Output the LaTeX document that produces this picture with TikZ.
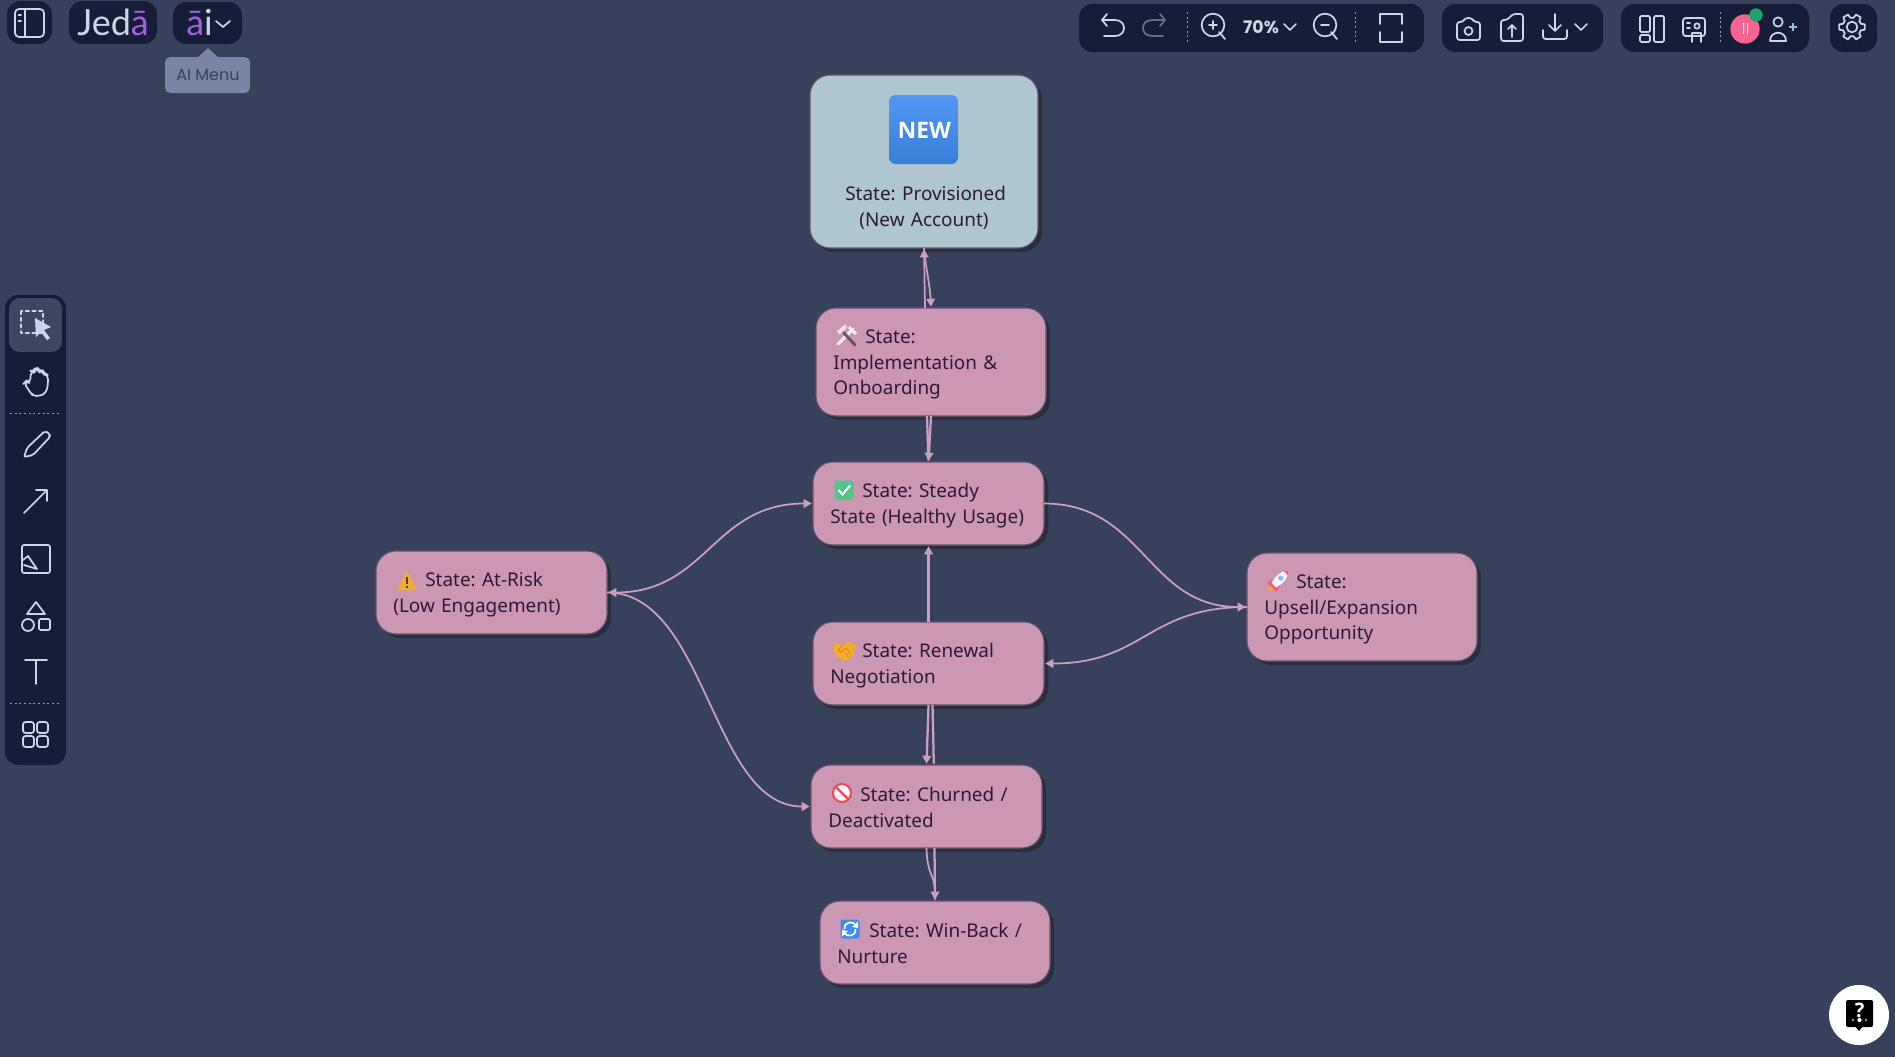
\documentclass[tikz,border=0pt]{standalone}
\usepackage{fontspec}
\usetikzlibrary{arrows.meta,calc}
\setmainfont{Noto Sans}
\newfontfamily\uifont{Poppins}
\newfontfamily\logofont{Lato}
\newfontfamily\badgefont{Open Sans}
\definecolor{bgc}{HTML}{38415B}
\definecolor{panelc}{HTML}{161D37}
\definecolor{pinkc}{HTML}{CB97B3}
\definecolor{bluec}{HTML}{ADC6D0}
\definecolor{shadowc}{HTML}{292D41}
\definecolor{edgec}{HTML}{6A5268}
\definecolor{textc}{HTML}{2E1A36}
\definecolor{linkc}{HTML}{CC9FBC}
\definecolor{iconc}{HTML}{CDD6E8}
\definecolor{purplec}{HTML}{A35FE0}
\definecolor{tipc}{HTML}{7885A3}
\definecolor{selc}{HTML}{3F4660}
\definecolor{avatarc}{HTML}{F4648F}
\definecolor{greenc}{HTML}{1FA36B}
\definecolor{newc}{HTML}{3F8CF0}
\definecolor{checkc}{HTML}{4FC58A}
\definecolor{orangec}{HTML}{F5AE2C}
\definecolor{redc}{HTML}{E94B5C}
\frenchspacing
\hyphenpenalty=10000
\tikzset{
  x=0.75pt,y=-0.75pt,
  statebox/.style={draw=edgec,line width=0.8pt,fill=pinkc,rounded corners=15pt,outer sep=0pt,
    inner xsep=13pt,inner ysep=0pt,text=textc,align=left,font=\fontsize{14.2}{19.2}\selectfont,
    preaction={draw=none,fill=shadowc,transform canvas={xshift=3pt,yshift=-3pt}}},
  sized/.style 2 args={minimum width=#1*0.75pt,minimum height=#2*0.75pt,text width=#1*0.75pt-26pt},
  link/.style={draw=linkc,line width=1.3pt,shorten >=1pt},
  boldlink/.style={link,line width=1.7pt},
  tip/.style={-{Triangle[length=6pt,width=6.5pt]}},
  bothtip/.style={{Triangle[length=6pt,width=6.5pt]}-{Triangle[length=6pt,width=6.5pt]},shorten <=1pt},
  panel/.style={fill=panelc,rounded corners=10pt},
  ui/.style={draw=iconc,line width=1.3pt,line cap=round,line join=round},
  uidim/.style={draw=iconc!45!panelc,line width=1.3pt,line cap=round,line join=round},
  sep/.style={draw=iconc!70!panelc,line width=0.6pt,dash pattern=on 1.5pt off 2pt},
  uitext/.style={text=iconc,inner sep=0pt},
}
\newcommand{\lead}{\rule{0pt}{14pt}\hspace*{24pt}}
\newcommand{\leadup}{\rule{0pt}{12.5pt}\hspace*{24pt}}
\begin{document}
\begin{tikzpicture}
\useasboundingbox (0,0) rectangle (1895,1057);
\fill[bgc] (0,0) rectangle (1895,1057);

% ---- top-left controls
\fill[panel] (7,1) rectangle (52,44);
\draw[ui,rounded corners=3pt] (15,9) rectangle (44,37);
\draw[ui] (25,9) -- (25,37);
\draw[ui] (18.5,15) -- (21,15) (18.5,21) -- (21,21);
\fill[panel] (69,1) rectangle (157,44);
\node[uitext,anchor=base west,font=\logofont\fontsize{27}{30}\selectfont] (logo) at (77,35) {Jed\textcolor{purplec}{ā}};
\fill[panel] (173,2) rectangle (242,44);
\node[uitext,anchor=base west,font=\logofont\fontsize{27}{30}\selectfont] (ailogo) at (186,35) {\textcolor{purplec}{ā}i};
\draw[ui] (216,21) -- (223,27) -- (230,21);
\fill[tipc] (197,58) -- (208,48) -- (219,58) -- cycle;
\fill[tipc,rounded corners=4pt] (165,57) rectangle (250,93);
\node[inner sep=0pt,text=bgc,font=\uifont\fontsize{12}{14}\selectfont] (aimenu) at (208,75) {AI Menu};

% ---- top-right panels
\fill[panel] (1079,4) rectangle (1424,52);
\fill[panel] (1442,4) rectangle (1603,52);
\fill[panel] (1621,4) rectangle (1809,52);
\fill[panel] (1830,4) rectangle (1877,52);
% undo / redo
\draw[ui] (1107,14) -- (1102,20) -- (1107,26);
\draw[ui] (1102,20) -- (1115,20) .. controls (1127,20) and (1127,36) .. (1115,36) -- (1104,36);
\draw[uidim] (1160,14) -- (1165,20) -- (1160,26);
\draw[uidim] (1165,20) -- (1152,20) .. controls (1140,20) and (1140,36) .. (1152,36) -- (1163,36);
\draw[sep] (1187,12) -- (1187,44);
% zoom
\draw[ui] (1213,25) circle (8.5pt) (1219,32) -- (1225,39) (1209,25) -- (1217,25) (1213,21) -- (1213,29);
\node[uitext,font=\uifont\bfseries\fontsize{13}{15}\selectfont] (zoompct) at (1261,27) {70\%};
\draw[ui] (1284,24) -- (1290,30) -- (1296,24);
\draw[ui] (1325,25) circle (8.5pt) (1331,32) -- (1337,39) (1321,25) -- (1329,25);
\draw[sep] (1355,12) -- (1355,44);
% fullscreen
\draw[ui] (1380,24) -- (1380,14) -- (1402,14) -- (1402,24) (1380,32) -- (1380,42) -- (1402,42) -- (1402,32);
% camera
\draw[ui,rounded corners=2pt] (1457,22) -- (1463,22) -- (1465,18) -- (1472,18) -- (1474,22) -- (1480,22) -- (1480,40) -- (1457,40) -- cycle;
\draw[ui] (1468.5,31) circle (3pt);
% file upload
\draw[ui,rounded corners=2pt] (1507,20) -- (1513,14) -- (1523,14) -- (1523,41) -- (1501,41) -- (1501,20) -- cycle;
\draw[ui] (1512,37) -- (1512,25) (1508,29) -- (1512,25) -- (1516,29);
% download
\draw[ui] (1555,14) -- (1555,30) (1549,25) -- (1555,31) -- (1561,25);
\draw[ui,rounded corners=2pt] (1543,30) -- (1543,39) -- (1567,39) -- (1567,30);
\draw[ui] (1575,24) -- (1581,30) -- (1587,24);
% layout
\draw[ui,rounded corners=1pt] (1640,16) rectangle (1650,32) (1640,35) rectangle (1650,42) (1654,16) rectangle (1664,42);
% presenter
\draw[ui,rounded corners=2pt] (1683,18) rectangle (1705,36);
\draw[ui] (1687,23) -- (1690,23) (1687,28) -- (1690,28);
\draw[ui] (1697,26) circle (2pt) (1692,42) -- (1692,33) -- (1701,33) -- (1701,42);
\draw[sep] (1720,12) -- (1720,44);
% avatar
\fill[avatarc] (1745,29) circle (11pt);
\fill[white] (1743,23) rectangle (1744,34) (1747,23) rectangle (1748,34);
\fill[greenc] (1756,15) circle (5pt);
% add user
\draw[ui] (1778,22) circle (3.5pt);
\draw[ui] (1770,41) .. controls (1770,30) and (1786,30) .. (1786,41) -- (1770,41);
\draw[draw=iconc!60!newc,line width=1pt] (1789,27) -- (1797,27) (1793,23) -- (1793,31);
% gear
\draw[ui] (1852,27) circle (4pt);
\foreach \a in {0,60,...,300}
  \draw[ui] ($(1852,27)+(\a-20:9.5)$) -- ($(1852,27)+(\a-12:13)$) -- ($(1852,27)+(\a+12:13)$) -- ($(1852,27)+(\a+20:9.5)$) -- ($(1852,27)+(\a+40:9.5)$);

% ---- left toolbar
\fill[panel] (5,295) rectangle (66,765);
\fill[selc,rounded corners=8pt] (9,298) rectangle (62,352);
\draw[ui,dash pattern=on 2.5pt off 2.5pt] (21,311) rectangle (43,333);
\fill[iconc] (35,318) -- (51,327) -- (44,330) -- (50,338) -- (47,340) -- (41,332) -- (36,337) -- cycle;
% hand
\draw[ui,rounded corners=3pt] (30,392) -- (24,383) -- (26,381) -- (30,383) -- (31,371) -- (34,372) -- (35,369) -- (38,369) -- (39,371) -- (43,371) -- (44,374) -- (48,375) -- (48,385) -- (46,393) -- (40,396) -- (33,396) -- cycle;
\draw[sep] (10,413) -- (61,413);
% pencil
\draw[ui,rounded corners=1.5pt] (24,457) -- (27,448) -- (45,431) -- (50,434) -- (50,437) -- (33,455) -- cycle;
% arrow
\draw[ui] (24,513) -- (47,490) (36,490) -- (47,490) -- (47,501);
% image
\draw[ui,rounded corners=1.5pt] (22,545) rectangle (50,573);
\draw[ui] (23,560) -- (28,556) -- (37,569) -- (24,565);
% shapes
\draw[ui] (36,602) -- (45,614) -- (27,614) -- cycle;
\draw[ui] (28,625) circle (4.5pt);
\draw[ui,rounded corners=1pt] (39,619) rectangle (50,630);
% T
\draw[ui] (25,660) -- (47,660) (36,660) -- (36,684);
\draw[sep] (10,703) -- (61,703);
% grid
\draw[ui,rounded corners=2pt] (23,722) rectangle (34,733) (37,722) rectangle (48,733) (23,736) rectangle (34,747) (37,736) rectangle (48,747);

% ---- help button
\fill[white] (1859,1015) circle (22.5pt);
\fill[black,rounded corners=1.5pt] (1846,1000) rectangle (1873,1027);
\fill[black] (1855,1026) -- (1863,1026) -- (1859,1031) -- cycle;
\node[inner sep=0pt,text=white,font=\badgefont\bfseries\fontsize{15}{15}\selectfont] (helpmark) at (1859.5,1010) {?};
\fill[white] (1859.5,1020) circle (1.6pt);
\fill[white!50!black] (1853,1020) circle (1.2pt) (1866,1020) circle (1.2pt);

% ---- state nodes
\node[statebox,fill=bluec,sized={228}{173},align=center] (prov) at (924,161.5) {\mbox{}\\[61pt]\hspace*{2.5pt}State: Provisioned\\(New Account)};
\node[statebox,sized={230}{108}] (impl) at (931,362) {\lead State:\\Implementation \&\\Onboarding};
\node[statebox,sized={231}{83}] (steady) at (928.5,503.5) {\lead State: Steady\\State (Healthy Usage)};
\node[statebox,sized={231}{83}] (renewal) at (928.5,663.5) {\lead State: Renewal\\Negotiation};
\node[statebox,sized={231}{83}] (churned) at (926.5,806.5) {\leadup State: Churned /\\Deactivated};
\node[statebox,sized={230}{83}] (winback) at (935,942.5) {\leadup State: Win-Back /\\Nurture};
\node[statebox,sized={231}{83}] (atrisk) at (491.5,592.5) {\lead State: At-Risk\\(Low Engagement)};
\node[statebox,sized={230}{108}] (upsell) at (1362,607) {\lead State:\\Upsell/Expansion\\Opportunity};

% NEW badge
\shade[top color=newc!90!white,bottom color=newc!90!black,rounded corners=5pt] (889,95) rectangle (958,164);
\node[inner sep=0pt,text=white,font=\badgefont\bfseries\fontsize{17}{17}\selectfont] (newbadge) at (924.5,130) {NEW};

% ---- connectors
\draw[link,tip] ([xshift=-4.5pt]impl.north) -- (prov.south);
\draw[link,tip] (prov.south) .. controls (926,270) and (930,285) .. (impl.north);
\draw[boldlink,tip] (impl.south) -- (steady.north);
\draw[boldlink] ([xshift=-3pt]impl.south) -- (steady.north);
\draw[boldlink,tip] (renewal.north) -- (steady.south);
\draw[boldlink,tip] (renewal.south) -- (churned.north);
\draw[boldlink] ([xshift=3pt]renewal.south) -- ([xshift=5.5pt]churned.north);
\draw[link,tip] (churned.south) .. controls (927,875) and (935,875) .. (winback.north);
\draw[boldlink] ([xshift=6pt]churned.south) -- (winback.north);
\draw[link,bothtip] (steady.west) .. controls +(-100,0) and +(100,0) .. (atrisk.east);
\draw[link,tip] (atrisk.east) .. controls +(100,0) and +(-100,0) .. (churned.west);
\draw[link,tip] (steady.east) .. controls +(100,0) and +(-100,0) .. (upsell.west);
\draw[link,tip] (upsell.west) .. controls +(-100,0) and +(100,0) .. (renewal.east);

% ---- state icons
% hammer and wrench
\draw[line width=2.2pt,draw=white!85!pinkc,line cap=round] (838,344) -- (853,329);
\draw[line width=2.2pt,draw=white!85!pinkc] (849,327) -- (856,334);
\draw[line width=2.2pt,draw=black!45!pinkc,line cap=round] (855,345) -- (844,333);
\draw[line width=3pt,draw=white!70!pinkc] (838,333) -- (846,326);
% check box
\fill[checkc,rounded corners=2pt] (834.5,480.5) rectangle (853.5,499.5);
\draw[white,line width=1.5pt] (838.5,490) -- (842.5,494.5) -- (850,485.5);
% handshake
\fill[orangec] (834,643) -- (843,645) -- (848,642) -- (855,644) -- (854,654) -- (846,661) -- (840,659) -- (834,652) -- cycle;
\draw[black!10!orangec!80!red,line width=0.6pt] (843,645) -- (838,650) -- (841,652) -- (846,648) -- (851,654) (846,653) -- (848,657);
% no entry
\fill[white!90!pinkc] (842,793) circle (6.5pt);
\draw[redc,line width=1.6pt] (842,793) circle (6.8pt);
\draw[redc,line width=1.6pt] (836,787) -- (848,799);
% refresh
\fill[newc,rounded corners=2pt] (840.5,919.5) rectangle (859.5,938.5);
\draw[white,line width=1.3pt] (844.5,929) .. controls (844,921) and (853,921) .. (856,925);
\draw[white,line width=1.3pt] (855.5,929) .. controls (856,937) and (847,937) .. (844,933);
\fill[white] (858,921.5) -- (858,928) -- (852,927) -- cycle;
\fill[white] (842,936.5) -- (842,930) -- (848,931) -- cycle;
% warning
\fill[orangec,rounded corners=1pt] (407,571) -- (417,590) -- (397,590) -- cycle;
\draw[black!75,line width=1pt] (407,577) -- (407,584) (407,586) -- (407,588);
% rocket
\begin{scope}[shift={(1278,581)},rotate=-45]
  \fill[avatarc!90!red] (-6,5) -- (-3,-1) -- (3,-1) -- (6,5) -- (6,9) -- (-6,9) -- cycle;
  \fill[orangec] (-2,9) -- (2,9) -- (0,15) -- cycle;
  \fill[white!92!pinkc] (0,-15) .. controls (6,-9) and (5,2) .. (3,6) -- (-3,6) .. controls (-5,2) and (-6,-9) .. (0,-15) -- cycle;
  \fill[avatarc!90!red] (0,-15) -- (3.2,-11) -- (-3.2,-11) -- cycle;
  \fill[newc!60!white] (0,-4) circle (2pt);
\end{scope}
\end{tikzpicture}
\end{document}
